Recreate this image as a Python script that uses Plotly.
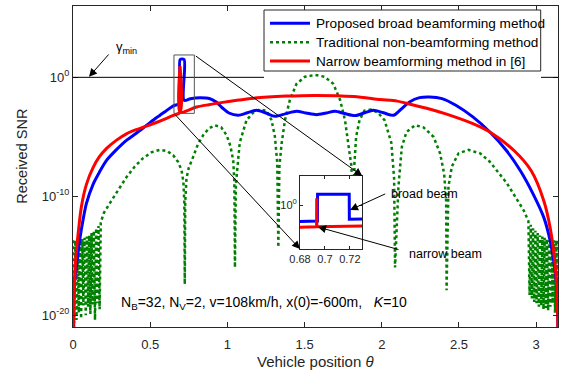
import math
import plotly.graph_objects as go

# ---------------- data (received SNR as log10 values) ----------------
blue_theta = [0.0000, 0.0030, 0.0100, 0.0220, 0.0430, 0.0650, 0.0870, 0.1300, 0.1700, 0.2160,
              0.2800, 0.3460, 0.4100, 0.4800, 0.5400, 0.6000, 0.6500, 0.6940, 0.6941, 0.7195,
              0.7196, 0.7600, 0.8220, 0.8870, 0.9300, 0.9700, 1.0100, 1.0700, 1.1300, 1.1890,
              1.2500, 1.3080, 1.3800, 1.4480, 1.5100, 1.5780, 1.6400, 1.6970, 1.7600, 1.8270,
              1.8900, 1.9460, 2.0100, 2.0760, 2.1180, 2.1800, 2.2450, 2.3100, 2.3900, 2.4800,
              2.5900, 2.7000, 2.8100, 2.9000, 2.9800, 3.0500, 3.0900, 3.1200, 3.1350, 3.1416]
blue_log_snr = [-22.0, -18.5, -17.2, -15.9, -13.7, -12.0, -10.6, -9.0, -8.0, -7.0,
                -6.1, -5.3, -4.7, -4.0, -3.4, -2.85, -2.4, -2.16, 1.50, 1.50,
                -1.93, -1.80, -1.72, -1.80, -2.10, -2.60, -3.00, -3.19, -2.98, -2.77,
                -3.00, -3.28, -3.05, -2.86, -3.00, -3.14, -3.00, -2.86, -3.05, -3.22,
                -2.98, -2.77, -2.98, -3.19, -2.77, -2.07, -1.71, -1.65, -1.79, -2.35,
                -3.33, -4.60, -6.20, -7.90, -9.80, -11.8, -13.7, -16.0, -18.0, -22.0]

red_theta = [0.0000, 0.0080, 0.0180, 0.0330, 0.0540, 0.0870, 0.1300, 0.1700, 0.2160, 0.2800,
             0.3460, 0.4100, 0.4760, 0.5400, 0.6060, 0.6500, 0.6933, 0.6934, 0.6935, 0.7300,
             0.8000, 0.8800, 0.9500, 1.0500, 1.1700, 1.3800, 1.5710, 1.8200, 1.9900, 2.1000,
             2.2100, 2.3200, 2.4200, 2.5900, 2.7000, 2.8600, 2.9700, 3.0500, 3.0900, 3.1200,
             3.1350, 3.1416]
red_log_snr = [-22.0, -18.0, -15.2, -13.2, -10.9, -9.0, -7.6, -6.7, -6.0, -5.3,
               -4.75, -4.4, -4.1, -3.8, -3.45, -3.2, -2.95, 0.95, -2.95, -2.85,
               -2.5, -2.3, -2.15, -1.95, -1.75, -1.58, -1.52, -1.62, -1.87, -2.00,
               -2.35, -2.70, -3.10, -3.90, -4.60, -6.20, -7.90, -10.4, -12.6, -15.4,
               -18.0, -22.0]

green_theta = [0.0000, 0.0075, 0.0150, 0.0225, 0.0300, 0.0375, 0.0450, 0.0525, 0.0600, 0.0675,
               0.0750, 0.0825, 0.0900, 0.0975, 0.1050, 0.1125, 0.1200, 0.1275, 0.1350, 0.1425,
               0.1500, 0.1575, 0.1650, 0.1725, 0.1800,
               0.2000, 0.2380, 0.2900, 0.3460, 0.4000, 0.4540, 0.5100, 0.5620, 0.6100, 0.6490,
               0.6800, 0.7030, 0.7150, 0.7210, 0.7240, 0.7270, 0.7350, 0.7500, 0.7780, 0.8100,
               0.8430, 0.8800, 0.9190, 0.9600, 0.9950, 1.0200, 1.0380, 1.0450, 1.0490, 1.0550,
               1.0800, 1.1240, 1.1670, 1.2100, 1.2540, 1.2860, 1.3080, 1.3230, 1.3300, 1.3370,
               1.3510, 1.3730, 1.4050, 1.4480, 1.5020, 1.5670, 1.6300, 1.6860, 1.7300, 1.7620,
               1.7830, 1.8040, 1.8160, 1.8230, 1.8340, 1.8560, 1.8880, 1.9300, 1.9750, 2.0180,
               2.0620, 2.0800, 2.0860, 2.1080, 2.1300, 2.1600, 2.2160, 2.2700, 2.3350, 2.3780,
               2.4040, 2.4170, 2.4200, 2.4320, 2.4540, 2.4970, 2.5620, 2.6380, 2.7000, 2.8100,
               2.9200,
               2.9500, 2.9575, 2.9650, 2.9725, 2.9800, 2.9875, 2.9950, 3.0025, 3.0100, 3.0175,
               3.0250, 3.0325, 3.0400, 3.0475, 3.0550, 3.0625, 3.0700, 3.0775, 3.0850, 3.0925,
               3.1000, 3.1075, 3.1150, 3.1225, 3.1300, 3.1375, 3.1416]
green_log_snr = [-13.7, -21.5, -13.7, -20.4, -13.7, -19.8, -13.7, -20.3, -13.6, -19.2,
                 -13.5, -20.0, -13.4, -19.3, -13.3, -19.9, -13.1, -19.1, -12.9, -20.4,
                 -12.7, -19.0, -12.5, -19.5, -12.2,
                 -11.4, -10.6, -9.5, -8.4, -7.5, -6.8, -6.3, -6.1, -6.2, -6.55,
                 -7.1, -7.8, -8.8, -10.5, -17.4, -10.5, -8.5, -7.6, -6.7, -5.6,
                 -4.87, -4.3, -4.03, -4.2, -4.87, -5.8, -7.0, -8.8, -16.0, -9.0,
                 -5.5, -3.6, -2.97, -2.70, -2.80, -3.60, -5.00, -7.20, -14.3, -7.5,
                 -5.6, -3.6, -1.9, -0.55, 0.05, 0.20, 0.05, -0.55, -1.9, -3.6,
                 -5.6, -7.5, -14.6, -7.2, -5.0, -3.6, -2.8, -2.7, -2.97, -3.6,
                 -5.5, -8.5, -16.0, -9.2, -5.86, -4.6, -4.03, -4.2, -5.0, -6.4,
                 -8.1, -10.4, -17.9, -9.2, -7.5, -6.4, -6.1, -6.4, -7.1, -8.9,
                 -11.2,
                 -12.1, -18.3, -12.4, -18.6, -12.7, -18.9, -12.9, -19.0, -13.1, -19.3,
                 -13.3, -19.2, -13.4, -19.5, -13.5, -19.4, -13.6, -19.6, -13.7, -19.3,
                 -13.7, -19.0, -13.7, -19.8, -13.7, -19.5, -13.7]

series_names = ["Proposed broad beamforming method",
                "Traditional non-beamforming method",
                "Narrow beamforming method in [6]"]

x_tick_vals = [0, 0.5, 1, 1.5, 2, 2.5, 3]
x_tick_text = ["0", "0.5", "1", "1.5", "2", "2.5", "3"]
y_tick_vals = [-20, -10, 0]
y_tick_text = ["10<sup>-20</sup>", "10<sup>-10</sup>", "10<sup>0</sup>"]
inset_x_vals = [0.68, 0.70, 0.72]
inset_x_text = ["0.68", "0.7", "0.72"]
inset_y_vals = [0]
inset_y_text = ["10<sup>0</sup>"]

gamma_min_level = 0.0

BLUE = "rgb(0,0,255)"
RED = "rgb(255,0,0)"
GREEN = "rgb(0,128,0)"
AX = "#262626"
FONT = "Liberation Sans, Arial, Helvetica, sans-serif"

# plot area geometry (pixels)
L, R, T, B = 73, 4, 6, 50
W, H = 562, 377
pw, ph = W - L - R, H - T - B


def px_x(px):
    return (px - L) / pw


def px_y(py):
    return (H - B - py) / ph


def th(px):  # pixel -> theta on the main axis
    return (px - L) / pw * math.pi


fig = go.Figure()

smooth = dict(shape="spline", smoothing=0.8)

fig.add_trace(go.Scatter(x=green_theta, y=green_log_snr, mode="lines", name=series_names[1],
                         line=dict(color=GREEN, width=2.5, dash="dot")))
fig.add_trace(go.Scatter(x=blue_theta, y=blue_log_snr, mode="lines", name=series_names[0],
                         line=dict(color=BLUE, width=3, **smooth)))
fig.add_trace(go.Scatter(x=red_theta, y=red_log_snr, mode="lines", name=series_names[2],
                         line=dict(color=RED, width=3, **smooth)))

# inset (zoomed view of the same data)
fig.add_trace(go.Scatter(x=blue_theta, y=blue_log_snr, mode="lines", xaxis="x2", yaxis="y2",
                         line=dict(color=BLUE, width=3), showlegend=False, hoverinfo="skip"))
fig.add_trace(go.Scatter(x=red_theta, y=red_log_snr, mode="lines", xaxis="x2", yaxis="y2",
                         line=dict(color=RED, width=3), showlegend=False, hoverinfo="skip"))

axis_common = dict(showline=True, linecolor=AX, linewidth=1, mirror="allticks",
                   ticks="inside", tickcolor=AX, showgrid=False, zeroline=False,
                   tickfont=dict(family=FONT, size=13, color=AX))
inset_common = {**axis_common, "tickfont": dict(family=FONT, size=11, color=AX)}

fig.update_layout(
    width=W, height=H,
    margin=dict(l=L, r=R, t=T, b=B),
    paper_bgcolor="white", plot_bgcolor="white",
    font=dict(family=FONT, color=AX),
    showlegend=False,
    xaxis=dict(range=[0, math.pi], tickvals=x_tick_vals, ticktext=x_tick_text,
               ticklen=5, ticklabelstandoff=5, **axis_common),
    yaxis=dict(range=[-21, 6], tickvals=y_tick_vals, ticktext=y_tick_text,
               ticklen=5, **axis_common),
    xaxis2=dict(domain=[px_x(300), px_x(362.3)], anchor="y2", range=[0.68, 0.73],
                tickvals=inset_x_vals, ticktext=inset_x_text, ticklen=3, **inset_common),
    yaxis2=dict(domain=[px_y(249), px_y(176)], anchor="x2", range=[-6, 4],
                tickvals=inset_y_vals, ticktext=inset_y_text, ticklen=3, **inset_common),
)

# white background of the inset (covers the main curves behind it)
fig.add_shape(type="rect", xref="x2", yref="y2", x0=0.68, x1=0.73, y0=-6, y1=4,
              fillcolor="white", line=dict(width=0), layer="below")

# gamma_min threshold line (hidden behind the legend box)
fig.add_shape(type="line", xref="x", yref="y", x0=0, x1=th(264),
              y0=gamma_min_level, y1=gamma_min_level, line=dict(color="black", width=1))
fig.add_shape(type="line", xref="x", yref="y", x0=th(541), x1=math.pi,
              y0=gamma_min_level, y1=gamma_min_level, line=dict(color="black", width=1))

# zoom rectangle
fig.add_shape(type="rect", xref="x", yref="y", x0=0.654, x1=0.786, y0=-3.03, y1=1.88,
              line=dict(color="#555555", width=1))

# legend box (drawn by hand to match the MATLAB legend)
fig.add_shape(type="rect", xref="paper", yref="paper", x0=px_x(264), x1=px_x(540.7),
              y0=px_y(71), y1=px_y(10), fillcolor="white", line=dict(color=AX, width=1))
legend_rows = [23.3, 42.3, 61.0]
legend_styles = [dict(color=BLUE, width=3), dict(color=GREEN, width=2.5, dash="dot"),
                 dict(color=RED, width=3)]
ann = []
for name, row, style in zip(series_names, legend_rows, legend_styles):
    fig.add_shape(type="line", xref="paper", yref="paper", x0=px_x(270), x1=px_x(310),
                  y0=px_y(row), y1=px_y(row), line=style)
    ann.append(dict(text=name, xref="paper", yref="paper", x=px_x(313.5), y=px_y(row),
                    xanchor="left", yanchor="middle", showarrow=False,
                    font=dict(family=FONT, size=13.6, color="black")))

# axis titles
ann.append(dict(text="Vehicle position <i>θ</i>", xref="paper", yref="paper",
                x=0.5, y=px_y(362), xanchor="center", yanchor="middle", showarrow=False,
                font=dict(family=FONT, size=15, color=AX)))
ann.append(dict(text="Received SNR", xref="paper", yref="paper", textangle=-90,
                x=px_x(21.7), y=px_y(156), xanchor="center", yanchor="middle", showarrow=False,
                font=dict(family=FONT, size=14.5, color=AX)))
# parameter text
ann.append(dict(text="N<sub>B</sub>=32, N<sub>V</sub>=2, v=108km/h, x(0)=-600m,   <i>K</i>=10",
                xref="x", yref="y", x=th(264), y=-18.98, xanchor="center", yanchor="middle",
                showarrow=False, font=dict(family=FONT, size=14, color="black")))
# gamma_min label and arrow
ann.append(dict(text="γ<sub>min</sub>", xref="x", yref="y", x=th(126), y=2.55,
                xanchor="center", yanchor="middle", showarrow=False,
                font=dict(family=FONT, size=13, color="black")))
arrow_style = dict(showarrow=True, arrowhead=2, arrowsize=1.6, arrowwidth=1,
                   arrowcolor="black", standoff=0, startstandoff=0, text="")
ann.append(dict(xref="x", yref="y", axref="x", ayref="y", x=th(89), y=0.05, ax=th(110), ay=2.05,
                **arrow_style))
# zoom connector lines
ann.append(dict(xref="x", yref="y", axref="x", ayref="y", x=th(362.3), y=-8.30, ax=0.786, ay=1.88,
                **arrow_style))
ann.append(dict(xref="x", yref="y", axref="x", ayref="y", x=th(300), y=-14.44, ax=0.654, ay=-3.03,
                **arrow_style))
# broad / narrow beam labels
ann.append(dict(text="broad beam", xref="x", yref="y", x=th(389), y=-9.81, xanchor="left",
                yanchor="middle", showarrow=False, font=dict(family=FONT, size=12.5, color="black")))
ann.append(dict(xref="x", yref="y", axref="x", ayref="y", x=th(350), y=-11.16, ax=th(386.7), ay=-9.75,
                **arrow_style))
ann.append(dict(text="narrow beam", xref="x", yref="y", x=th(406.7), y=-14.86, xanchor="left",
                yanchor="middle", showarrow=False, font=dict(family=FONT, size=12.5, color="black")))
ann.append(dict(xref="x", yref="y", axref="x", ayref="y", x=th(318), y=-12.59, ax=th(400), ay=-14.52,
                **arrow_style))
fig.update_layout(annotations=ann)

fig.write_html("out.html")
